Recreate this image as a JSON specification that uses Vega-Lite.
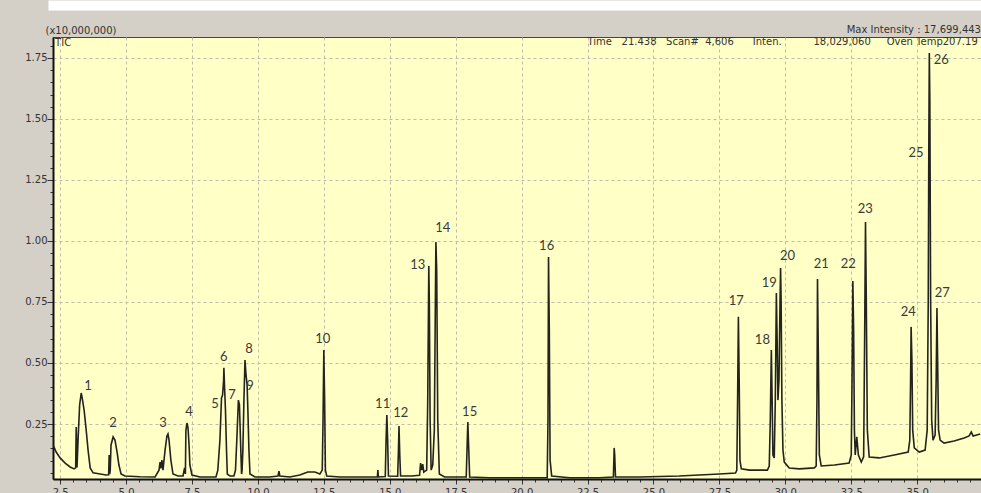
{
  "$schema": "https://vega.github.io/schema/vega-lite/v6.json",
  "description": "GC-MS total ion chromatogram (TIC) with numbered peaks",
  "autosize": "none",
  "width": 928,
  "height": 442,
  "padding": {"left": 53, "top": 37, "right": 0, "bottom": 14},
  "background": "#d4d0c8",
  "title": {
    "text": "Max Intensity : 17,699,443",
    "anchor": "end",
    "frame": "group",
    "font": "DejaVu Sans",
    "fontSize": 10,
    "fontWeight": "normal",
    "color": "#333333",
    "offset": -30
  },
  "config": {
    "view": {"fill": "#ffffc6", "stroke": "#444444", "strokeWidth": 1}
  },
  "datasets": {
    "tic": [
      {"t": 2.235, "i": 0.164}, {"t": 2.35, "i": 0.135}, {"t": 2.5, "i": 0.111}, {"t": 2.69, "i": 0.09}, {"t": 2.88, "i": 0.074}, {"t": 3.03, "i": 0.066},
      {"t": 3.09, "i": 0.07}, {"t": 3.11, "i": 0.238}, {"t": 3.14, "i": 0.072}, {"t": 3.18, "i": 0.184}, {"t": 3.24, "i": 0.328}, {"t": 3.3, "i": 0.377},
      {"t": 3.33, "i": 0.361}, {"t": 3.41, "i": 0.307}, {"t": 3.48, "i": 0.234}, {"t": 3.56, "i": 0.143}, {"t": 3.64, "i": 0.07}, {"t": 3.75, "i": 0.05},
      {"t": 4.02, "i": 0.045}, {"t": 4.24, "i": 0.041}, {"t": 4.34, "i": 0.042}, {"t": 4.36, "i": 0.123}, {"t": 4.38, "i": 0.045}, {"t": 4.4, "i": 0.061},
      {"t": 4.43, "i": 0.164}, {"t": 4.51, "i": 0.197}, {"t": 4.58, "i": 0.184}, {"t": 4.66, "i": 0.135}, {"t": 4.73, "i": 0.082}, {"t": 4.81, "i": 0.045},
      {"t": 4.96, "i": 0.037}, {"t": 5.53, "i": 0.034}, {"t": 6.1, "i": 0.033}, {"t": 6.25, "i": 0.061}, {"t": 6.29, "i": 0.094}, {"t": 6.32, "i": 0.068},
      {"t": 6.36, "i": 0.102}, {"t": 6.4, "i": 0.061}, {"t": 6.48, "i": 0.143}, {"t": 6.55, "i": 0.201}, {"t": 6.59, "i": 0.209}, {"t": 6.63, "i": 0.184},
      {"t": 6.7, "i": 0.102}, {"t": 6.78, "i": 0.045}, {"t": 6.97, "i": 0.037}, {"t": 7.16, "i": 0.037}, {"t": 7.22, "i": 0.07}, {"t": 7.25, "i": 0.045},
      {"t": 7.27, "i": 0.225}, {"t": 7.31, "i": 0.254}, {"t": 7.35, "i": 0.234}, {"t": 7.39, "i": 0.164}, {"t": 7.42, "i": 0.082}, {"t": 7.5, "i": 0.041},
      {"t": 7.8, "i": 0.033}, {"t": 8.41, "i": 0.033}, {"t": 8.48, "i": 0.061}, {"t": 8.56, "i": 0.184}, {"t": 8.62, "i": 0.357}, {"t": 8.66, "i": 0.369},
      {"t": 8.7, "i": 0.43}, {"t": 8.71, "i": 0.48}, {"t": 8.74, "i": 0.389}, {"t": 8.77, "i": 0.307}, {"t": 8.81, "i": 0.143}, {"t": 8.84, "i": 0.045},
      {"t": 8.94, "i": 0.037}, {"t": 9.09, "i": 0.037}, {"t": 9.15, "i": 0.061}, {"t": 9.2, "i": 0.184}, {"t": 9.26, "i": 0.348}, {"t": 9.3, "i": 0.328},
      {"t": 9.34, "i": 0.184}, {"t": 9.38, "i": 0.045}, {"t": 9.4, "i": 0.06}, {"t": 9.43, "i": 0.143}, {"t": 9.47, "i": 0.348}, {"t": 9.51, "i": 0.512},
      {"t": 9.55, "i": 0.451}, {"t": 9.59, "i": 0.41}, {"t": 9.62, "i": 0.307}, {"t": 9.66, "i": 0.143}, {"t": 9.7, "i": 0.045}, {"t": 9.89, "i": 0.033},
      {"t": 10.45, "i": 0.033}, {"t": 10.76, "i": 0.037}, {"t": 10.8, "i": 0.057}, {"t": 10.83, "i": 0.037}, {"t": 11.21, "i": 0.033}, {"t": 11.59, "i": 0.041},
      {"t": 11.89, "i": 0.053}, {"t": 12.16, "i": 0.053}, {"t": 12.35, "i": 0.045}, {"t": 12.44, "i": 0.061}, {"t": 12.47, "i": 0.266}, {"t": 12.5, "i": 0.553},
      {"t": 12.53, "i": 0.348}, {"t": 12.56, "i": 0.061}, {"t": 12.61, "i": 0.037}, {"t": 13.11, "i": 0.033}, {"t": 14.24, "i": 0.033}, {"t": 14.53, "i": 0.033},
      {"t": 14.55, "i": 0.061}, {"t": 14.57, "i": 0.033}, {"t": 14.83, "i": 0.035}, {"t": 14.86, "i": 0.184}, {"t": 14.89, "i": 0.287}, {"t": 14.92, "i": 0.184},
      {"t": 14.95, "i": 0.037}, {"t": 15.3, "i": 0.036}, {"t": 15.33, "i": 0.143}, {"t": 15.35, "i": 0.242}, {"t": 15.38, "i": 0.123}, {"t": 15.41, "i": 0.037},
      {"t": 15.83, "i": 0.037}, {"t": 16.13, "i": 0.04}, {"t": 16.17, "i": 0.09}, {"t": 16.21, "i": 0.061}, {"t": 16.25, "i": 0.086}, {"t": 16.29, "i": 0.053},
      {"t": 16.4, "i": 0.061}, {"t": 16.44, "i": 0.348}, {"t": 16.48, "i": 0.898}, {"t": 16.5, "i": 0.758}, {"t": 16.53, "i": 0.266}, {"t": 16.57, "i": 0.061},
      {"t": 16.63, "i": 0.082}, {"t": 16.69, "i": 0.225}, {"t": 16.73, "i": 0.758}, {"t": 16.75, "i": 0.996}, {"t": 16.78, "i": 0.881}, {"t": 16.82, "i": 0.266},
      {"t": 16.88, "i": 0.045}, {"t": 17.08, "i": 0.033}, {"t": 17.9, "i": 0.033}, {"t": 17.94, "i": 0.184}, {"t": 17.96, "i": 0.258}, {"t": 17.99, "i": 0.164},
      {"t": 18.03, "i": 0.033}, {"t": 18.79, "i": 0.03}, {"t": 19.92, "i": 0.03}, {"t": 20.68, "i": 0.03}, {"t": 20.97, "i": 0.03}, {"t": 21.0, "i": 0.266},
      {"t": 21.02, "i": 0.934}, {"t": 21.05, "i": 0.635}, {"t": 21.08, "i": 0.102}, {"t": 21.14, "i": 0.037}, {"t": 21.82, "i": 0.03}, {"t": 22.95, "i": 0.03},
      {"t": 23.48, "i": 0.033}, {"t": 23.51, "i": 0.152}, {"t": 23.53, "i": 0.123}, {"t": 23.56, "i": 0.033}, {"t": 24.47, "i": 0.033}, {"t": 25.98, "i": 0.037},
      {"t": 27.5, "i": 0.045}, {"t": 28.11, "i": 0.049}, {"t": 28.16, "i": 0.06}, {"t": 28.19, "i": 0.348}, {"t": 28.22, "i": 0.689}, {"t": 28.25, "i": 0.43},
      {"t": 28.28, "i": 0.102}, {"t": 28.33, "i": 0.066}, {"t": 28.64, "i": 0.061}, {"t": 29.32, "i": 0.061}, {"t": 29.39, "i": 0.078}, {"t": 29.43, "i": 0.266},
      {"t": 29.47, "i": 0.553}, {"t": 29.5, "i": 0.348}, {"t": 29.53, "i": 0.123}, {"t": 29.58, "i": 0.111}, {"t": 29.62, "i": 0.348}, {"t": 29.66, "i": 0.787},
      {"t": 29.69, "i": 0.594}, {"t": 29.72, "i": 0.348}, {"t": 29.76, "i": 0.43}, {"t": 29.8, "i": 0.758}, {"t": 29.82, "i": 0.889}, {"t": 29.84, "i": 0.758},
      {"t": 29.87, "i": 0.348}, {"t": 29.91, "i": 0.143}, {"t": 29.96, "i": 0.094}, {"t": 30.15, "i": 0.07}, {"t": 30.53, "i": 0.066}, {"t": 31.1, "i": 0.07},
      {"t": 31.17, "i": 0.078}, {"t": 31.2, "i": 0.348}, {"t": 31.22, "i": 0.844}, {"t": 31.25, "i": 0.553}, {"t": 31.29, "i": 0.123}, {"t": 31.36, "i": 0.078},
      {"t": 31.86, "i": 0.082}, {"t": 32.42, "i": 0.09}, {"t": 32.5, "i": 0.123}, {"t": 32.53, "i": 0.43}, {"t": 32.56, "i": 0.836}, {"t": 32.59, "i": 0.635},
      {"t": 32.62, "i": 0.225}, {"t": 32.65, "i": 0.123}, {"t": 32.71, "i": 0.197}, {"t": 32.77, "i": 0.123}, {"t": 32.88, "i": 0.094}, {"t": 32.97, "i": 0.115},
      {"t": 33.01, "i": 0.635}, {"t": 33.04, "i": 1.078}, {"t": 33.07, "i": 0.758}, {"t": 33.11, "i": 0.225}, {"t": 33.18, "i": 0.115}, {"t": 33.56, "i": 0.111},
      {"t": 34.13, "i": 0.123}, {"t": 34.66, "i": 0.135}, {"t": 34.72, "i": 0.184}, {"t": 34.75, "i": 0.43}, {"t": 34.77, "i": 0.648}, {"t": 34.8, "i": 0.512},
      {"t": 34.83, "i": 0.225}, {"t": 34.89, "i": 0.152}, {"t": 35.08, "i": 0.135}, {"t": 35.3, "i": 0.143}, {"t": 35.38, "i": 0.225}, {"t": 35.42, "i": 0.758},
      {"t": 35.44, "i": 1.369}, {"t": 35.46, "i": 1.77}, {"t": 35.48, "i": 1.578}, {"t": 35.51, "i": 0.758}, {"t": 35.55, "i": 0.266}, {"t": 35.6, "i": 0.184},
      {"t": 35.68, "i": 0.205}, {"t": 35.72, "i": 0.43}, {"t": 35.75, "i": 0.725}, {"t": 35.77, "i": 0.553}, {"t": 35.81, "i": 0.225}, {"t": 35.87, "i": 0.184},
      {"t": 36.02, "i": 0.172}, {"t": 36.4, "i": 0.18}, {"t": 36.78, "i": 0.193}, {"t": 36.97, "i": 0.201}, {"t": 37.05, "i": 0.217}, {"t": 37.12, "i": 0.201},
      {"t": 37.39, "i": 0.209}
    ],
    "peaks": [
      {"peak": "1", "t": 3.56, "i": 0.406}, {"peak": "2", "t": 4.51, "i": 0.254}, {"peak": "3", "t": 6.4, "i": 0.254},
      {"peak": "4", "t": 7.39, "i": 0.299}, {"peak": "5", "t": 8.37, "i": 0.332}, {"peak": "6", "t": 8.71, "i": 0.525},
      {"peak": "7", "t": 9.02, "i": 0.369}, {"peak": "8", "t": 9.66, "i": 0.557}, {"peak": "9", "t": 9.7, "i": 0.406},
      {"peak": "10", "t": 12.46, "i": 0.598}, {"peak": "11", "t": 14.73, "i": 0.332}, {"peak": "12", "t": 15.42, "i": 0.295},
      {"peak": "13", "t": 16.06, "i": 0.902}, {"peak": "14", "t": 17.01, "i": 1.053}, {"peak": "15", "t": 18.03, "i": 0.299},
      {"peak": "16", "t": 20.95, "i": 0.98}, {"peak": "17", "t": 28.14, "i": 0.754}, {"peak": "18", "t": 29.13, "i": 0.594},
      {"peak": "19", "t": 29.39, "i": 0.828}, {"peak": "20", "t": 30.08, "i": 0.939}, {"peak": "21", "t": 31.36, "i": 0.906},
      {"peak": "22", "t": 32.39, "i": 0.906}, {"peak": "23", "t": 33.03, "i": 1.131}, {"peak": "24", "t": 34.66, "i": 0.709},
      {"peak": "25", "t": 34.96, "i": 1.361}, {"peak": "26", "t": 35.91, "i": 1.742}, {"peak": "27", "t": 35.95, "i": 0.787}
    ],
    "notes": [
      {"note": "TIC", "t": 2.31, "i": 1.811},
      {"note": "Time\u00a0\u00a0\u00a021.438\u00a0\u00a0\u00a0Scan#\u00a0\u00a04,606\u00a0\u00a0\u00a0\u00a0\u00a0\u00a0Inten.\u00a0\u00a0\u00a0\u00a0\u00a0\u00a0\u00a0\u00a0\u00a0\u00a018,029,060\u00a0\u00a0\u00a0\u00a0\u00a0Oven Temp207.19", "t": 22.5, "i": 1.816}
    ]
  },
  "layer": [
    {
      "data": {"name": "tic"},
      "mark": {"type": "line", "color": "#232320", "strokeWidth": 1.6, "clip": true},
      "encoding": {
        "x": {
          "field": "t",
          "type": "quantitative",
          "scale": {"domain": [2.23, 37.42], "nice": false, "zero": false},
          "axis": {
            "orient": "bottom",
            "title": null,
            "tickCount": 500,
            "values": [2.5, 3, 3.5, 4, 4.5, 5, 5.5, 6, 6.5, 7, 7.5, 8, 8.5, 9, 9.5, 10, 10.5, 11, 11.5, 12, 12.5, 13, 13.5, 14, 14.5, 15, 15.5, 16, 16.5, 17, 17.5, 18, 18.5, 19, 19.5, 20, 20.5, 21, 21.5, 22, 22.5, 23, 23.5, 24, 24.5, 25, 25.5, 26, 26.5, 27, 27.5, 28, 28.5, 29, 29.5, 30, 30.5, 31, 31.5, 32, 32.5, 33, 33.5, 34, 34.5, 35, 35.5, 36, 36.5, 37],
            "labelExpr": "datum.value % 2.5 == 0 ? format(datum.value, '.1f') : ''",
            "labelOverlap": false,
            "labelFlush": false,
            "labelBound": false,
            "labelFont": "DejaVu Sans",
            "labelFontSize": 10,
            "labelColor": "#333333",
            "labelPadding": 3,
            "tickSize": {"condition": {"test": "datum.value % 2.5 == 0", "value": 5}, "value": 3},
            "tickColor": "#333333",
            "domainColor": "#111111",
            "domainWidth": 2,
            "grid": true,
            "gridColor": "#bdbdac",
            "gridDash": [3, 3],
            "gridOpacity": {"condition": {"test": "datum.value % 2.5 == 0", "value": 1}, "value": 0}
          }
        },
        "y": {
          "field": "i",
          "type": "quantitative",
          "scale": {"domain": [0.0246, 1.836], "nice": false, "zero": false},
          "axis": {
            "orient": "left",
            "title": "(x10,000,000)",
            "titleAngle": 0,
            "titleAlign": "left",
            "titleBaseline": "middle",
            "titleX": -8,
            "titleY": -7,
            "titleFont": "DejaVu Sans",
            "titleFontSize": 10,
            "titleFontWeight": "normal",
            "titleColor": "#333333",
            "tickCount": 500,
            "values": [0.05, 0.1, 0.15, 0.2, 0.25, 0.3, 0.35, 0.4, 0.45, 0.5, 0.55, 0.6, 0.65, 0.7, 0.75, 0.8, 0.85, 0.9, 0.95, 1, 1.05, 1.1, 1.15, 1.2, 1.25, 1.3, 1.35, 1.4, 1.45, 1.5, 1.55, 1.6, 1.65, 1.7, 1.75, 1.8],
            "labelExpr": "abs(datum.value * 4 - round(datum.value * 4)) < 1e-6 ? format(datum.value, '.2f') : ''",
            "labelOverlap": false,
            "labelBound": false,
            "labelFont": "DejaVu Sans",
            "labelFontSize": 10,
            "labelColor": "#333333",
            "labelPadding": 0,
            "tickSize": {"condition": {"test": "abs(datum.value * 4 - round(datum.value * 4)) < 1e-6", "value": 6}, "value": 3},
            "tickColor": "#333333",
            "domainColor": "#111111",
            "domainWidth": 2,
            "grid": true,
            "gridColor": "#bdbdac",
            "gridDash": [3, 3],
            "gridOpacity": {"condition": {"test": "abs(datum.value * 4 - round(datum.value * 4)) < 1e-6", "value": 1}, "value": 0}
          }
        }
      }
    },
    {
      "data": {"name": "peaks"},
      "mark": {"type": "text", "font": "Lato", "fontSize": 13, "color": "#3a3a3a", "baseline": "middle", "align": "center"},
      "encoding": {
        "x": {
          "field": "t",
          "type": "quantitative",
          "scale": {"domain": [2.23, 37.42], "nice": false, "zero": false},
          "axis": {
            "orient": "top",
            "title": null,
            "labels": false,
            "ticks": false,
            "grid": false,
            "domain": true,
            "domainColor": "#ffffff",
            "domainWidth": 10,
            "domainCap": "square",
            "offset": 32
          }
        },
        "y": {"field": "i", "type": "quantitative", "scale": {"domain": [0.0246, 1.836], "nice": false, "zero": false}},
        "text": {"field": "peak"}
      }
    },
    {
      "data": {"name": "notes"},
      "mark": {"type": "text", "font": "DejaVu Sans", "fontSize": 10, "color": "#333333", "align": "left", "baseline": "middle"},
      "encoding": {
        "x": {"field": "t", "type": "quantitative", "scale": {"domain": [2.23, 37.42], "nice": false, "zero": false}, "axis": null},
        "y": {"field": "i", "type": "quantitative", "scale": {"domain": [0.0246, 1.836], "nice": false, "zero": false}},
        "text": {"field": "note"}
      }
    }
  ],
  "resolve": {"axis": {"x": "independent"}}
}
